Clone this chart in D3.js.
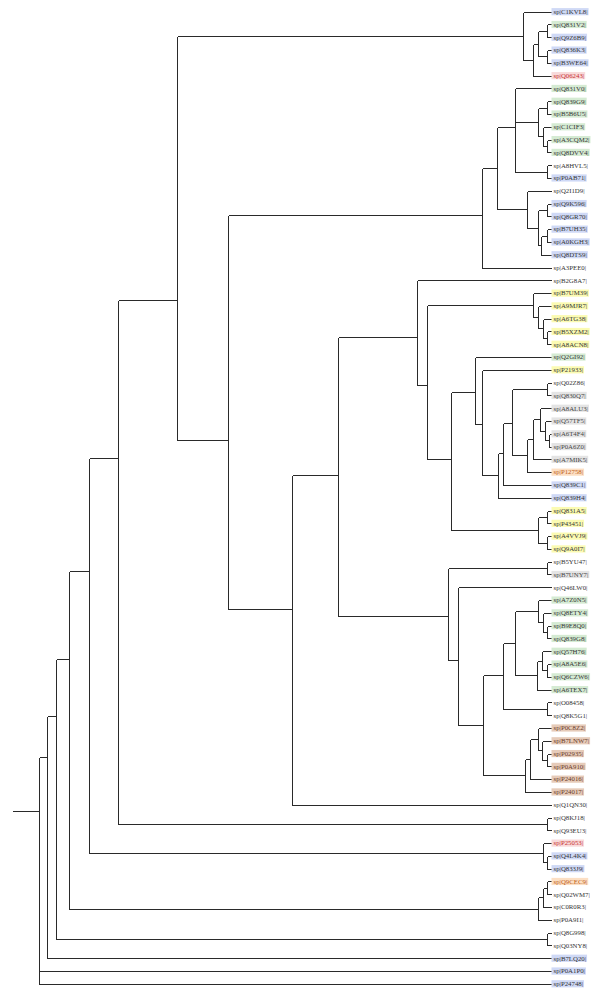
<!DOCTYPE html>
<html><head><meta charset="utf-8">
<script src="https://cdn.jsdelivr.net/npm/d3@7"></script>
<style>body{margin:0;background:#fff}svg{display:block}</style>
</head><body>
<svg id="chart" width="600" height="999"></svg>
<script>
// ---- data: tree topology with branch lengths (Newick pieces) ----
const cladeTop   = "(C1KVL8,(((Q831V2,Q9Z6B9):9,(Q836K3,B3WE64):9):5.6,Q06243):9.4)";
const cladeD     = "(Q831V0,((Q839G9,B5B6U5):9,(C1CIF3,(A3CQM2,Q8DVV4):4.6):4.4):23.3,(A8HVL5,P0AB71):32.3)";
const cladeE     = "(Q2I1D9,((Q9K596,Q8GR70):9,((B7UH35,A0KGH3):6.3,Q8DTS9):2.7):11.6)";
const cladeN     = `((${cladeD}:18.3,${cladeE}:30):15,A3PEE0)`;
const cladeYel1  = "(B7UM39,(A9MJR7,(A6TG38,(B5XZM2,A8ACN8):4.6):4.4):5)";
const cladeGray  = "(((A8ALU3,(Q57TF5,(A6T4F4,P0A6Z0):3.5):5):7,A7MIK5):6,P12758)";
const cladeL7    = `((((Q02Z86,Q830Q7):35.6,${cladeGray}:15.3):8.7,Q839C1):4.7,Q839H4)`;
const cladeL5    = `(Q2GI92,(P21933,${cladeL7}:16.6):6.7)`;
const cladeYel2  = "((Q831A5,P43451):9,(A4VVJ9,Q9A0I7):9)";
const cladeL2    = `(B2G8A7,(${cladeYel1}:106.6,(${cladeL5}:24.3,${cladeYel2}:87.6):24):9.4)`;
const cladeGreen = "((A7Z0N5,(Q8ETY4,(B9E8Q0,Q839G8):4.6):4.4):23.3,((Q57H76,(A8A5E6,Q6CZW6):5.3):5,A6TEX7):22)";
const cladeTan   = "(((P0C8Z2,(B7LNW7,(P02935,P0A910):5.3):3.7):8.3,P24016):5,P24017)";
const cladeM2    = `((B5YU47,B7UNY7):99.6,(Q46LW0,((${cladeGreen}:11.7,(O08458,Q8K5G1):44):20.5,${cladeTan}:42.2):25.1):10)`;
const cladeL0    = `((${cladeL2}:79,${cladeM2}:109.4):46,Q1QN30)`;
const cladeK0    = `(${cladeTop}:346,(${cladeN}:254,${cladeL0}:64.6):50.4)`;
const cladeQ     = "(((Q9CEC9,Q02WM7):4.6,C0R0R3):4.4,P0A9I1)";
const newick = `((((((${cladeK0}:59,(Q8KJ18,Q93EU3):429):29,(P25053,(Q4L4K4,Q833J9):4.6):453.4):20,${cladeQ}:469):13.6,(Q8G998,Q03NY8):491.6):9,B7LQ20):7.4,P0A1P0,P24748);`;

const rootBranch = 27;      // length of the stub left of the root
const treeHeight = 511.2;   // tips are aligned at this distance from the root

// leaf order (top to bottom) and label highlight groups
const leafIds = ["C1KVL8","Q831V2","Q9Z6B9","Q836K3","B3WE64","Q06243","Q831V0","Q839G9","B5B6U5","C1CIF3",
 "A3CQM2","Q8DVV4","A8HVL5","P0AB71","Q2I1D9","Q9K596","Q8GR70","B7UH35","A0KGH3","Q8DTS9",
 "A3PEE0","B2G8A7","B7UM39","A9MJR7","A6TG38","B5XZM2","A8ACN8","Q2GI92","P21933","Q02Z86",
 "Q830Q7","A8ALU3","Q57TF5","A6T4F4","P0A6Z0","A7MIK5","P12758","Q839C1","Q839H4","Q831A5",
 "P43451","A4VVJ9","Q9A0I7","B5YU47","B7UNY7","Q46LW0","A7Z0N5","Q8ETY4","B9E8Q0","Q839G8",
 "Q57H76","A8A5E6","Q6CZW6","A6TEX7","O08458","Q8K5G1","P0C8Z2","B7LNW7","P02935","P0A910",
 "P24016","P24017","Q1QN30","Q8KJ18","Q93EU3","P25053","Q4L4K4","Q833J9","Q9CEC9","Q02WM7",
 "C0R0R3","P0A9I1","Q8G998","Q03NY8","B7LQ20","P0A1P0","P24748"];
const leafGroups = ["blue","green","blue","blue","blue","pink","green","green","green","green",
 "green","green","none","blue","none","blue","blue","blue","blue","blue",
 "none","none","yellow","yellow","yellow","yellow","yellow","green","yellow","none",
 "gray","gray","gray","gray","gray","gray","peach","blue","blue","yellow",
 "yellow","yellow","yellow","none","gray","none","green","green","green","green",
 "green","green","green","green","none","none","tan","tan","tan","tan",
 "tan","tan","none","none","none","pink","blue","blue","peach","none",
 "none","none","none","none","blue","blue","blue"];
const groupNames = ["blue","green","yellow","gray","peach","pink","tan","none"];
const groupFills = ["#cfd9f6","#d5ebd3","#fbfbb2","#e4e4e4","#fcdfc4","#f8dada","#e6cbb9","none"];
const groupInks  = ["#333","#333","#333","#444","#c0601a","#c83030","#6a3a28","#333"];

// ---- parse ----
function parseNewick(s){
  let i = 0;
  function node(){
    const n = {children: []};
    if (s[i] === "("){
      i++;
      n.children.push(node());
      while (s[i] === ","){ i++; n.children.push(node()); }
      i++;
    }
    let name = "";
    while (i < s.length && !",():;".includes(s[i])) name += s[i++];
    n.name = name.trim();
    if (s[i] === ":"){
      i++; let l = "";
      while (i < s.length && !",();".includes(s[i])) l += s[i++];
      n.length = +l;
    }
    return n;
  }
  return node();
}

const root = d3.hierarchy(parseNewick(newick), d => d.children.length ? d.children : null);
root.count();
root.each(n => { n.dist = n.parent ? (n.children ? n.parent.dist + (n.data.length || 0) : treeHeight) : 0; });

const svg = d3.select("#chart");
const x = d3.scaleLinear().domain([-rootBranch, treeHeight]).range([12.3, 550.5]);
const yLeaf = d3.scaleLinear().domain([0, leafIds.length - 1]).range([11.7, 983.8]);

// vertical placement: weighted mean of the children, weight = 1/sqrt(leaves outside the child clade)
const nTot = leafIds.length;
const leafIndex = new Map(leafIds.map((d, i) => [d, i]));
root.eachAfter(n => {
  if (!n.children){ n.yy = yLeaf(leafIndex.get(n.data.name)); return; }
  let sw = 0, sy = 0;
  n.children.forEach(c => { const w = 1 / Math.sqrt(Math.max(1, nTot - c.value)); sw += w; sy += w * c.yy; });
  n.yy = sy / sw;
});

const snap = v => Math.round(v) + 0.5;
const g = svg.append("g").attr("stroke", "#2a2a2a").attr("stroke-width", 1).attr("fill", "none")
  .attr("shape-rendering", "crispEdges");

// root stub
g.append("line").attr("x1", snap(x(-rootBranch))).attr("x2", snap(x(0)))
  .attr("y1", snap(root.yy)).attr("y2", snap(root.yy));
// horizontal branches
g.selectAll("line.h").data(root.descendants().filter(n => n.parent)).join("line").attr("class", "h")
  .attr("x1", n => snap(x(n.parent.dist))).attr("x2", n => snap(x(n.dist)))
  .attr("y1", n => snap(n.yy)).attr("y2", n => snap(n.yy));
// vertical connectors
g.selectAll("line.v").data(root.descendants().filter(n => n.children)).join("line").attr("class", "v")
  .attr("x1", n => snap(x(n.dist))).attr("x2", n => snap(x(n.dist)))
  .attr("y1", n => snap(n.children[0].yy)).attr("y2", n => snap(n.children[n.children.length - 1].yy));

// labels
const lab = svg.append("g").selectAll("g").data(root.leaves()).join("g")
  .attr("transform", n => `translate(${x(n.dist) + 1},${n.yy})`);
const gi = n => groupNames.indexOf(leafGroups[leafIndex.get(n.data.name)]);
const rects = lab.append("rect").attr("x", 0).attr("y", -3.6).attr("height", 7.2)
  .attr("fill", n => groupFills[gi(n)]);
const texts = lab.append("text").attr("x", 2).attr("y", 0).attr("dy", "0.34em")
  .attr("font-family", "'Liberation Serif','Times New Roman',serif").attr("font-size", 6.8)
  .attr("fill", n => groupInks[gi(n)])
  .text(n => `sp|${n.data.name}|`);
texts.each(function(n){ n.tw = this.getComputedTextLength(); });
rects.attr("width", n => gi(n) === 7 ? 0 : n.tw + 3);
</script>
</body></html>
